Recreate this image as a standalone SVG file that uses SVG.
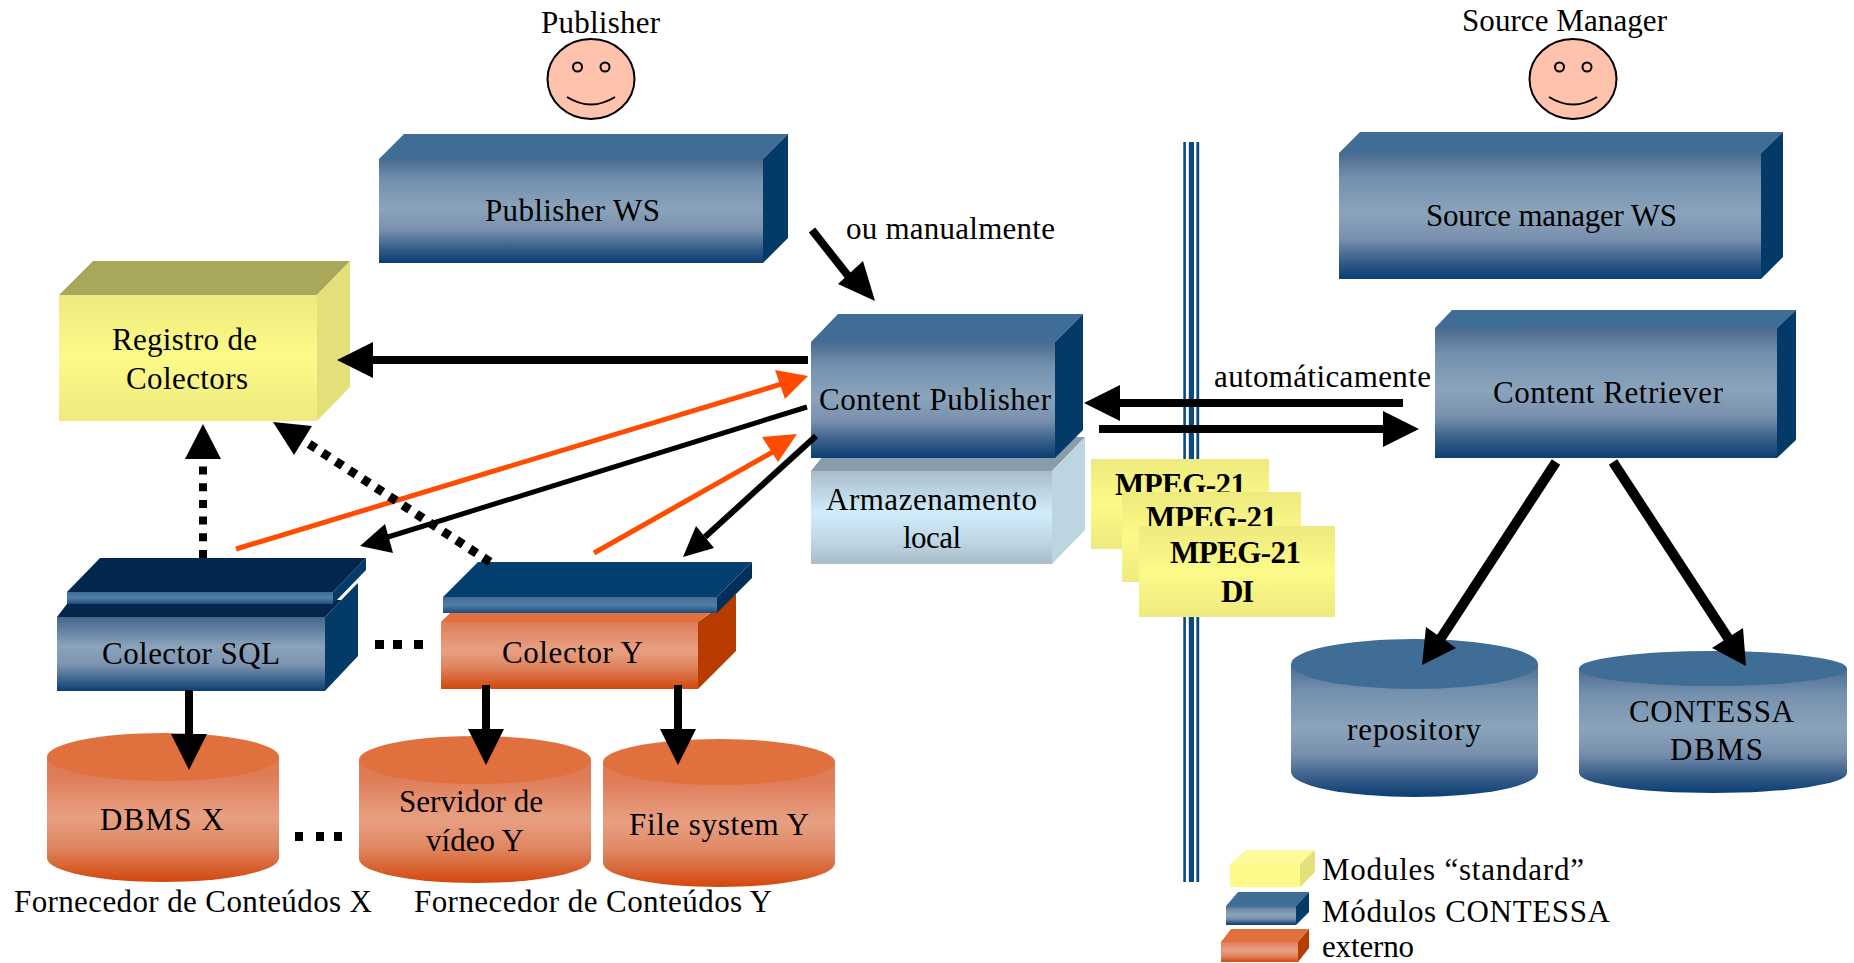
<svg xmlns="http://www.w3.org/2000/svg" width="1854" height="963" viewBox="0 0 1854 963">
<style>
text{font-family:"Liberation Serif","Times New Roman",serif;font-size:31px;fill:#000}
.b{font-weight:bold}
.bt{fill:#3f6d96}.bs{fill:#033a68}.bf{fill:url(#gb)}
.ot{fill:#e0703e}.os{fill:#b83c00}.of{fill:url(#go)}
.cy{fill:url(#gcy)}
.yt{fill:#a9a85a}.ys{fill:#e3e07a}.yf{fill:url(#gy)}
.dk{fill:#03264c}
.face{fill:#ffc2ad;stroke:#000;stroke-width:2}
.eye{fill:none;stroke:#000;stroke-width:2}
.k{stroke:#000;fill:none}.o{stroke:#ff4c00;fill:none}
.ah{fill:#000}.oh{fill:#ff4c00}
</style>
<defs>
<linearGradient id="gb" x1="0" y1="0" x2="0" y2="1"><stop offset="0" stop-color="#4a6a90"/><stop offset=".2" stop-color="#7390ad"/><stop offset=".48" stop-color="#8ba4bc"/><stop offset=".68" stop-color="#7890ad"/><stop offset=".88" stop-color="#2f5784"/><stop offset="1" stop-color="#0a3e74"/></linearGradient>
<linearGradient id="go" x1="0" y1="0" x2="0" y2="1"><stop offset="0" stop-color="#e07c58"/><stop offset=".4" stop-color="#e8a083"/><stop offset=".7" stop-color="#df8661"/><stop offset="1" stop-color="#d2470c"/></linearGradient>
<linearGradient id="gcy" x1="0" y1="0" x2="0" y2="1"><stop offset=".15" stop-color="#df7c58"/><stop offset=".48" stop-color="#e8a083"/><stop offset=".72" stop-color="#df8661"/><stop offset="1" stop-color="#d2470c"/></linearGradient>
<linearGradient id="gy" x1="0" y1="0" x2="0" y2="1"><stop offset="0" stop-color="#eeea7f"/><stop offset=".5" stop-color="#fcfa88"/><stop offset="1" stop-color="#eeea7f"/></linearGradient>
<linearGradient id="gl" x1="0" y1="0" x2="0" y2="1"><stop offset="0" stop-color="#a9bdca"/><stop offset=".45" stop-color="#d1ecfb"/><stop offset=".7" stop-color="#c3dbe9"/><stop offset="1" stop-color="#a9bdca"/></linearGradient>
<linearGradient id="gp" x1="0" y1="0" x2="0" y2="1"><stop offset="0" stop-color="#3f6d96"/><stop offset=".5" stop-color="#527ea4"/><stop offset="1" stop-color="#1a4c7d"/></linearGradient>
<linearGradient id="gc" x1="0" y1="0" x2="0" y2="1"><stop offset="0" stop-color="#45668c"/><stop offset=".4" stop-color="#8ba4bc"/><stop offset=".65" stop-color="#7b93af"/><stop offset="1" stop-color="#0a3e74"/></linearGradient>
<linearGradient id="gco" x1="0" y1="0" x2="0" y2="1"><stop offset="0" stop-color="#df7c58"/><stop offset=".42" stop-color="#e8a083"/><stop offset=".66" stop-color="#df8661"/><stop offset="1" stop-color="#d2470c"/></linearGradient>
</defs>

<g id="separator">
<rect x="1183.3" y="142" width="2.6" height="740" fill="#0a4a80"/>
<rect x="1188.8" y="142" width="5.2" height="740" fill="#0a4a80"/>
<rect x="1196.4" y="142" width="2.8" height="740" fill="#0a4a80"/>
</g>

<g id="publisher-actor">
<text x="541" y="33" textLength="119">Publisher</text>
<ellipse class="face" cx="591" cy="79" rx="43.5" ry="40"/>
<ellipse class="eye" cx="577.500" cy="67" rx="4.500" ry="4.500"/><ellipse class="eye" cx="605" cy="67" rx="4.500" ry="4.500"/>
<path class="eye" d="M567 97Q591 112 615 97"/>
</g>
<g id="source-manager-actor">
<text x="1462" y="31" textLength="205">Source Manager</text>
<ellipse class="face" cx="1573" cy="79" rx="43.5" ry="40"/>
<ellipse class="eye" cx="1559.500" cy="67" rx="4.500" ry="4.500"/><ellipse class="eye" cx="1587" cy="67" rx="4.500" ry="4.500"/>
<path class="eye" d="M1549 97Q1573 112 1597 97"/>
</g>

<g id="publisher-ws">
<path class="bt" d="M379 159L404 134H788L763 159Z"/><path class="bs" d="M763 159L788 134V238L763 263Z"/><rect class="bf" x="379" y="159" width="384" height="104"/>
<text x="485" y="221" textLength="175">Publisher WS</text>
</g>
<g id="source-manager-ws">
<path class="bt" d="M1339 153L1360 132H1783L1761 153Z"/><path class="bs" d="M1761 153L1783 132V257L1761 279Z"/><rect class="bf" x="1339" y="153" width="422" height="126"/>
<text x="1426" y="226" textLength="251">Source manager WS</text>
</g>
<g id="content-retriever">
<path class="bt" d="M1435 328L1452 310H1796L1777 328Z"/><path class="bs" d="M1777 328L1796 310V440L1777 458Z"/><rect class="bf" x="1435" y="328" width="342" height="130"/>
<text x="1493" y="403" textLength="230">Content Retriever</text>
</g>
<g id="armazenamento-local">
<path fill="#8a9ca9" d="M811 471L838 437H1085L1052 471Z"/><path fill="#bdd4e2" d="M1052 471L1085 437V530L1052 564Z"/><rect fill="url(#gl)" x="811" y="471" width="241" height="93"/>
<text x="826" y="510" textLength="211">Armazenamento</text>
<text x="903" y="548" textLength="58">local</text>
</g>
<g id="content-publisher">
<path class="bt" d="M811 342L838 314H1083L1055 342Z"/><path class="bs" d="M1055 342L1083 314V430L1055 458Z"/><rect class="bf" x="811" y="342" width="244" height="116"/>
<text x="819" y="410" textLength="232">Content Publisher</text>
</g>
<g id="registro-de-colectors">
<path class="yt" d="M59 295L93 261H350L317 295Z"/><path class="ys" d="M317 295L350 261V387L317 421Z"/><rect class="yf" x="59" y="295" width="258" height="126"/>
<text x="112" y="350" textLength="145">Registro de</text>
<text x="126" y="389" textLength="122">Colectors</text>
</g>

<g id="mpeg-21-stack">
<rect class="yf" x="1091" y="459" width="178" height="90"/>
<text class="b" x="1115" y="495" textLength="131">MPEG-21</text>
<rect class="yf" x="1122" y="492" width="179" height="90"/>
<text class="b" x="1146" y="528" textLength="131">MPEG-21</text>
<rect class="yf" x="1139" y="526" width="196" height="91"/>
<text class="b" x="1170" y="563" textLength="131">MPEG-21</text>
<text class="b" x="1221" y="602" textLength="33">DI</text>
</g>

<g id="colector-sql">
<path class="dk" d="M57 617L70 600H345L358 583L325 617Z"/><path class="bs" d="M325 617L358 583V656L325 691Z"/><rect fill="url(#gc)" x="57" y="617" width="268" height="74"/>
<path class="dk" d="M67 592L100 558H366L333 592Z"/><path class="bs" d="M333 592L366 558V570L333 604Z"/><rect fill="url(#gp)" x="67" y="592" width="266" height="12"/>
<text x="102" y="664" textLength="178">Colector SQL</text>
</g>
<g id="colector-y">
<path class="ot" d="M441 622L452 611H712L698 622Z"/><path class="os" d="M698 622L736 594V651L698 689Z"/><rect fill="url(#gco)" x="441" y="622" width="257" height="67"/>
<path fill="#033f70" d="M443 597L478 562H752L717 597Z"/><path fill="#03305a" d="M717 597L752 562V578L717 613Z"/><rect fill="url(#gp)" x="443" y="597" width="274" height="16"/>
<text x="502" y="663" textLength="141">Colector Y</text>
</g>

<g id="dbms-x">
<path class="cy" d="M47 757V858A116 24 0 0 0 279 858V757Z"/><ellipse class="ot" cx="163" cy="757" rx="116" ry="24"/>
<text x="100" y="830" textLength="124">DBMS X</text>
</g>
<g id="servidor-de-video-y">
<path class="cy" d="M359 760V859A116 24 0 0 0 591 859V760Z"/><ellipse class="ot" cx="475" cy="760" rx="116" ry="24"/>
<text x="399" y="812" textLength="144">Servidor de</text>
<text x="426" y="851" textLength="98">vídeo Y</text>
</g>
<g id="file-system-y">
<path class="cy" d="M603 762V863A116 24 0 0 0 835 863V762Z"/><ellipse class="ot" cx="719" cy="762" rx="116" ry="23"/>
<text x="629" y="835" textLength="180">File system Y</text>
</g>
<g id="repository">
<path class="bf" d="M1291 664V772A123.500 25 0 0 0 1538 772V664Z"/><ellipse class="bt" cx="1414.500" cy="664" rx="123.500" ry="25"/>
<text x="1347" y="740" textLength="134">repository</text>
</g>
<g id="contessa-dbms">
<path class="bf" d="M1579 668.500V773A134 20 0 0 0 1847 773V668.500Z"/><ellipse class="bt" cx="1713" cy="668.500" rx="134" ry="17.500"/>
<text x="1629" y="722" textLength="165">CONTESSA</text>
<text x="1670" y="760" textLength="93">DBMS</text>
</g>

<g id="connectors">
<path class="k" stroke-width="8" d="M808 360H370"/><path class="ah" d="M337 360L373 342V378Z"/>
<path class="k" stroke-width="8" d="M812 230L853 282"/><path class="ah" d="M875 301L838 284L863 261Z"/>
<path class="o" stroke-width="5" d="M236 549L785 383"/><path class="oh" d="M808 376L775 370L785 399Z"/>
<path class="k" stroke-width="5" d="M807 407L388 537"/><path class="ah" d="M360 546L385 524L393 553Z"/>
<path class="o" stroke-width="5" d="M594 553L778 449"/><path class="oh" d="M797 434L762 437L778 462Z"/>
<path class="k" stroke-width="6" d="M816 436L705 537"/><path class="ah" d="M683 557L696 526L714 548Z"/>
<path class="k" stroke-width="8" stroke-dasharray="8 8.700" d="M203 558V459"/><path class="ah" d="M203 424L221 459H185Z"/>
<path class="k" stroke-width="9" stroke-dasharray="8 8" d="M490 562L303 440"/><path class="ah" d="M273 422L312 426L294 455Z"/>
<path class="k" stroke-width="8" d="M1403 403H1118"/><path class="ah" d="M1084 403L1120 385V421Z"/>
<path class="k" stroke-width="8" d="M1099 429H1385"/><path class="ah" d="M1419 429L1383 411V447Z"/>
<path class="k" stroke-width="10" d="M1556 462L1441 638"/><path class="ah" d="M1422 665L1426 627L1456 648Z"/>
<path class="k" stroke-width="10" d="M1613 462L1728 638"/><path class="ah" d="M1746 666L1712 648L1743 628Z"/>
<path class="k" stroke-width="8" d="M189 690V736"/><path class="ah" d="M189 770L171 734H207Z"/>
<path class="k" stroke-width="8" d="M486 685V731"/><path class="ah" d="M486 765L468 729H504Z"/>
<path class="k" stroke-width="8" d="M678 685V731"/><path class="ah" d="M678 765L660 729H696Z"/>
</g>

<g id="ellipsis-colectors"><rect x="375" y="640" width="9" height="9"/><rect x="393" y="640" width="9" height="9"/><rect x="414" y="640" width="9" height="9"/></g>
<g id="ellipsis-fornecedores"><rect x="295" y="832" width="8" height="9"/><rect x="316" y="832" width="8" height="9"/><rect x="334" y="832" width="8" height="9"/></g>

<g id="labels">
<text x="846" y="239" textLength="209">ou manualmente</text>
<text x="1214" y="387" textLength="217">automáticamente</text>
<text x="14" y="912" textLength="358">Fornecedor de Conteúdos X</text>
<text x="414" y="912" textLength="358">Fornecedor de Conteúdos Y</text>
</g>

<g id="legend">
<g id="legend-standard"><path fill="#fcfa9a" d="M1230 864L1246 850H1315L1300 864Z"/><path class="ys" d="M1300 864L1315 850V872L1300 887Z"/><rect fill="#fcfa88" x="1230" y="864" width="70" height="23"/><text x="1322" y="880" textLength="262">Modules “standard”</text></g>
<g id="legend-contessa"><path class="bt" d="M1226 906L1238 892H1309L1296 906Z"/><path class="bs" d="M1296 906L1309 892V912L1296 925Z"/><rect class="bf" x="1226" y="906" width="70" height="19"/><text x="1322" y="922" textLength="288">Módulos CONTESSA</text></g>
<g id="legend-externo"><path class="ot" d="M1221 942L1231 929H1309L1298 942Z"/><path class="os" d="M1298 942L1309 929V948L1298 962Z"/><rect class="of" x="1221" y="942" width="77" height="20"/><text x="1322" y="957" textLength="92">externo</text></g>
</g>
</svg>
